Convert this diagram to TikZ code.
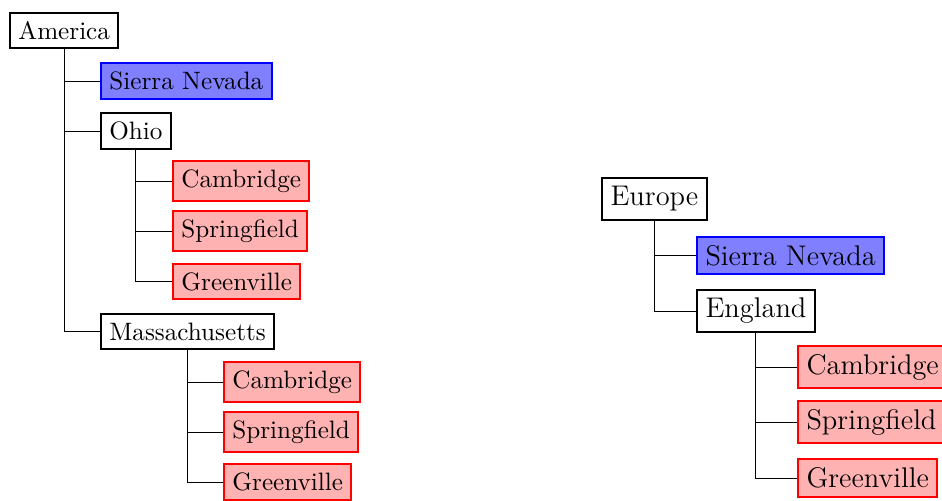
\documentclass[tikz,border=0pt]{standalone}
\tikzset{
  base/.style={draw, rectangle, anchor=west, inner sep=0.3333em, line width=0.8pt},
  plainbox/.style={base},
  bluebox/.style={base, draw=blue, fill=blue!50},
  redbox/.style={base, draw=red, fill=red!30},
  bigtext/.style={font=\fontsize{11.3}{13.6}\selectfont, line width=0.9pt},
  treeedge/.style={draw=black, line width=0.4pt}
}
\begin{document}
\begin{tikzpicture}[x=0.39746pt, y=-0.39746pt]
\useasboundingbox (0,0) rectangle (942,500);
% Left tree
\node[plainbox] (am) at (9,30.5) {America};
\node[bluebox] (lsn) at (100,81) {Sierra Nevada};
\node[plainbox] (oh) at (100,131) {Ohio};
\node[redbox] (ohc) at (172,181) {Cambridge};
\node[redbox] (ohs) at (172,231) {Springfield};
\node[redbox] (ohg) at (172,281.5) {Greenville};
\node[plainbox] (ma) at (100,331.5) {Massachusetts};
\node[redbox] (mac) at (223,382) {Cambridge};
\node[redbox] (mas) at (223,432) {Springfield};
\node[redbox] (mag) at (223,482) {Greenville};
\draw[treeedge] (am.south) |- (lsn.west);
\draw[treeedge] (am.south) |- (oh.west);
\draw[treeedge] (am.south) |- (ma.west);
\draw[treeedge] (oh.south) |- (ohc.west);
\draw[treeedge] (oh.south) |- (ohs.west);
\draw[treeedge] (oh.south) |- (ohg.west);
\draw[treeedge] (ma.south) |- (mac.west);
\draw[treeedge] (ma.south) |- (mas.west);
\draw[treeedge] (ma.south) |- (mag.west);
% Right tree
\node[plainbox, bigtext] (eu) at (601,199) {Europe};
\node[bluebox, bigtext] (rsn) at (696,255.5) {Sierra Nevada};
\node[plainbox, bigtext] (en) at (696,311) {England};
\node[redbox, bigtext] (enc) at (797,367) {Cambridge};
\node[redbox, bigtext] (ens) at (797,422) {Springfield};
\node[redbox, bigtext] (eng) at (797,478) {Greenville};
\draw[treeedge] (eu.south) |- (rsn.west);
\draw[treeedge] (eu.south) |- (en.west);
\draw[treeedge] (en.south) |- (enc.west);
\draw[treeedge] (en.south) |- (ens.west);
\draw[treeedge] (en.south) |- (eng.west);
\end{tikzpicture}
\end{document}
